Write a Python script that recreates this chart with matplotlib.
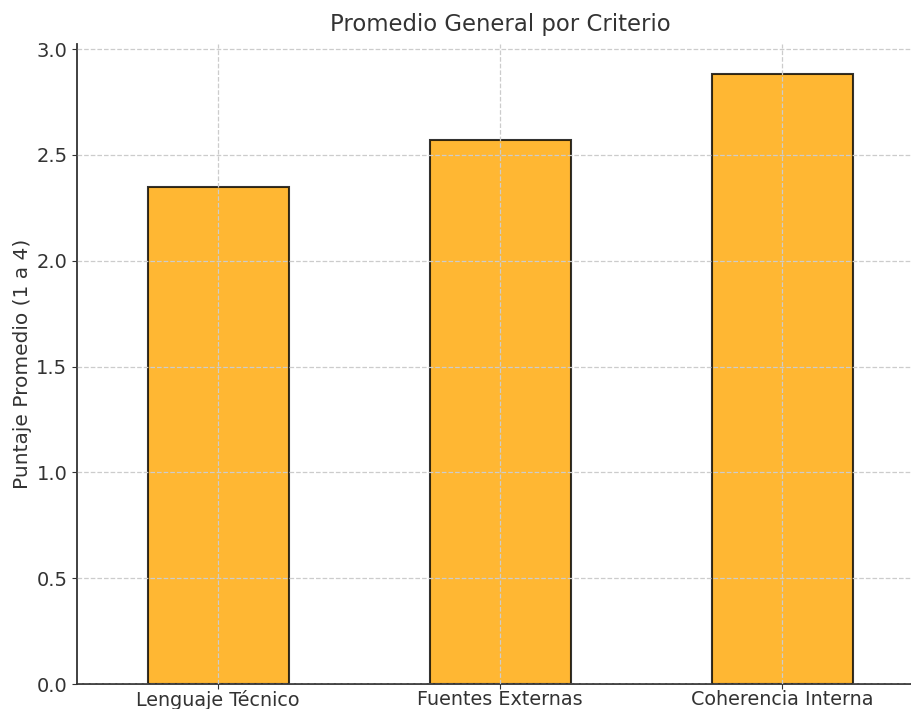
import matplotlib
matplotlib.use("Agg")
import matplotlib.pyplot as plt

criterios = ["Lenguaje Técnico", "Fuentes Externas", "Coherencia Interna"]
promedios = [2.35, 2.57, 2.88]

text_color = "#333333"
plt.rcParams["text.color"] = text_color
plt.rcParams["axes.labelcolor"] = text_color
plt.rcParams["xtick.color"] = text_color
plt.rcParams["ytick.color"] = text_color
plt.rcParams["axes.edgecolor"] = text_color

W, H = 912, 709
fig = plt.figure(figsize=(W / 100, H / 100), dpi=100)
# axes run past the right edge, as in the cropped original
ax = fig.add_axes([77 / W, 25 / H, 846 / W, 640 / H])

x = range(len(criterios))
ax.bar(x, promedios, width=0.5, color="orange", edgecolor="black",
       linewidth=1.5, alpha=0.8)
ax.set_xlim(-0.5, len(criterios) - 0.5)
ax.set_xticks(list(x))
ax.set_xticklabels(criterios)

ax.grid(True, linestyle="--", color="#cccccc", linewidth=0.9)
ax.set_axisbelow(False)

ax.set_title("Promedio General por Criterio", fontsize=16.4, pad=9)
ax.set_ylabel("Puntaje Promedio (1 a 4)", fontsize=14.5, labelpad=3)
ax.tick_params(axis="both", labelsize=14)
ax.tick_params(axis="x", pad=0.5, labelsize=13.8)

ax.spines["top"].set_visible(False)
ax.spines["right"].set_visible(False)
ax.spines["left"].set_linewidth(1.3)
ax.spines["bottom"].set_linewidth(1.3)

fig.savefig("out.png", dpi=100)
